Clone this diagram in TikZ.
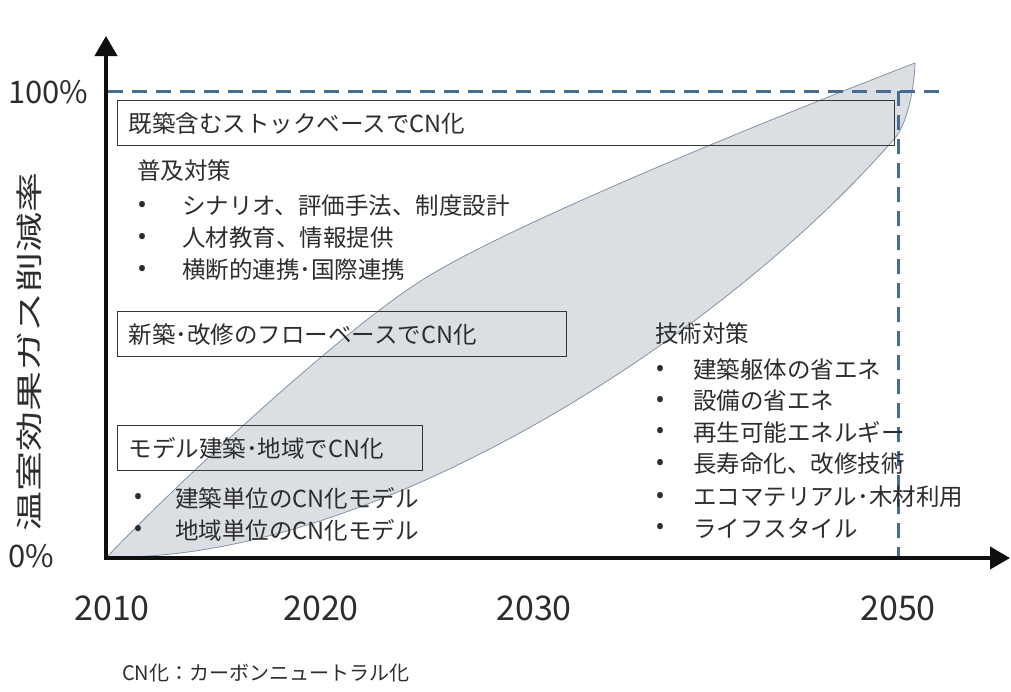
\documentclass[tikz,border=0pt]{standalone}
\usepackage{fontspec}
\newfontfamily\jp{Noto Sans CJK JP}
\usetikzlibrary{arrows.meta}
\definecolor{axisblk}{RGB}{15,15,15}
\definecolor{txt}{RGB}{45,45,45}
\definecolor{boxln}{RGB}{55,55,55}
\definecolor{dashblue}{RGB}{70,108,150}
\definecolor{lensfill}{RGB}{219,223,228}
\definecolor{lensedge}{RGB}{128,148,165}
\tikzset{
  every node/.style={font=\jp, text=txt, inner sep=0pt},
  lbl/.style={anchor=west, font=\jp\fontsize{23.5}{26}\selectfont},
  yearlbl/.style={font=\jp\fontsize{34}{38}\selectfont},
  pctlbl/.style={anchor=west, font=\jp\fontsize{31}{34}\selectfont},
  cnbox/.style={draw=boxln, line width=1.4pt, anchor=north west, align=left,
    inner xsep=11pt, inner ysep=0pt, minimum height=45pt,
    font=\jp\fontsize{23.5}{26}\selectfont},
  axisline/.style={draw=axisblk, line width=4pt, -{Triangle[length=20pt,width=22pt]}},
  dashline/.style={draw=dashblue, line width=3pt, dash pattern=on 15pt off 9pt},
  lens/.style={fill=lensfill, draw=lensedge, line width=0.8pt},
}
\begin{document}
\begin{tikzpicture}[x=1pt,y=-1pt]
\useasboundingbox (0,0) rectangle (1011,691);
\fill[white] (0,0) rectangle (1011,691);

% lens-shaped band
\coordinate (ls) at (107,557);
\coordinate (lm) at (427,277);
\coordinate (lt) at (915,63);
\coordinate (lk) at (895,138);
\path[lens] (ls) .. controls (160,500) and (340,330) .. (lm)
  .. controls (520,220) and (780,115) .. (lt)
  .. controls (914,95) and (905,126.5) .. (lk)
  .. controls (720,340) and (370,562) .. (ls) -- cycle;

% boxes
\node[cnbox, text width=755pt] (stock) at (117,100) {既築含むストックベースでCN化};
\node[cnbox, text width=427pt] (flow) at (117,311) {新築･改修のフローベースでCN化};
\node[cnbox, text width=283pt] (model) at (117,425) {モデル建築･地域でCN化};

% dashed target lines
\coordinate (h0) at (108,91);
\coordinate (h1) at (945,91);
\coordinate (v0) at (898,91);
\coordinate (v1) at (898,557);
\draw[dashline] (h0) -- (h1);
\draw[dashline] (v0) -- (v1);

% axes
\coordinate (o) at (106,558);
\coordinate (ytip) at (106,36);
\coordinate (xtip) at (1010,558);
\draw[axisline] (o) -- (ytip);
\draw[axisline] ([xshift=-2pt]o) -- (xtip);

% axis labels
\node[pctlbl] (p100) at (8,92) {100\%};
\node[pctlbl] (p0) at (8,556) {0\%};
\node[yearlbl] (y2010) at (112,608) {2010};
\node[yearlbl] (y2020) at (321,608) {2020};
\node[yearlbl] (y2030) at (534,608) {2030};
\node[yearlbl] (y2050) at (898,608) {2050};
\node[rotate=90, font=\jp\fontsize{27}{30}\selectfont] (ylab) at (29,352) {\scalebox{1.48}[1]{温室効果ガス削減率}};

% 普及対策
\node[lbl] (fk) at (137,171) {普及対策};
\foreach \yy/\tt [count=\i] in {206/{シナリオ、評価手法、制度設計}, 238/{人材教育、情報提供}, 270/{横断的連携･国際連携}} {
  \node[lbl] (fkb\i) at (138,\yy) {•};
  \node[lbl] (fkt\i) at (182,\yy) {\tt};
}

% モデル bullets
\foreach \yy/\tt [count=\i] in {498/{建築単位のCN化モデル}, 530/{地域単位のCN化モデル}} {
  \node[lbl] (mb\i) at (134,\yy) {•};
  \node[lbl] (mt\i) at (175,\yy) {\tt};
}

% 技術対策
\node[lbl] (gj) at (655,334) {技術対策};
\foreach \yy/\tt [count=\i] in {370/{建築躯体の省エネ}, 401/{設備の省エネ}, 432/{再生可能エネルギー}, 464/{長寿命化、改修技術}, 497/{エコマテリアル･木材利用}, 528/{ライフスタイル}} {
  \node[lbl] (gb\i) at (656,\yy) {•};
  \node[lbl] (gt\i) at (693,\yy) {\tt};
}

% footnote
\node[anchor=west, font=\jp\fontsize{20}{22}\selectfont] (note) at (122,673) {CN化：カーボンニュートラル化};
\end{tikzpicture}
\end{document}
